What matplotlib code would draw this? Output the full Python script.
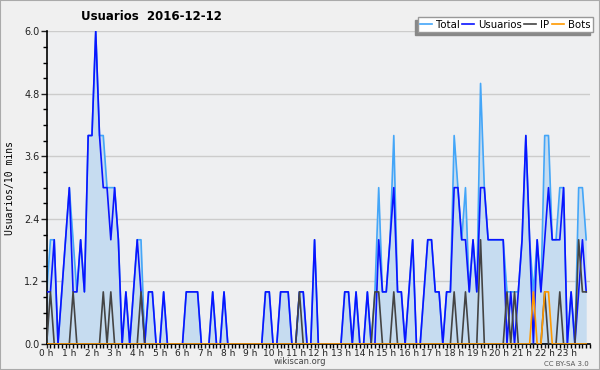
import numpy as np
import matplotlib.pyplot as plt
from matplotlib.patches import Rectangle
from matplotlib.ticker import MultipleLocator
from matplotlib.transforms import IdentityTransform

# one value per 10 minutes, 2016-12-12
usuarios = [1, 1, 2, 0, 1, 2, 3, 1, 1, 2, 1, 4, 4, 6, 4, 3, 3, 2, 3, 2,
            0, 1, 0, 1, 2, 1, 0, 1, 1, 0, 0, 1, 0, 0, 0, 0, 0, 1, 1, 1,
            1, 0, 0, 0, 1, 0, 0, 1, 0, 0, 0, 0, 0, 0, 0, 0, 0, 0, 1, 1,
            0, 0, 1, 1, 1, 0, 0, 1, 1, 0, 0, 2, 0, 0, 0, 0, 0, 0, 0, 1,
            1, 0, 1, 0, 0, 1, 0, 0, 2, 1, 1, 2, 3, 1, 1, 0, 1, 2, 0, 0,
            1, 2, 2, 1, 1, 0, 1, 1, 3, 3, 2, 2, 1, 2, 1, 3, 3, 2, 2, 2,
            2, 2, 0, 1, 0, 1, 2, 4, 2, 0, 2, 1, 2, 3, 2, 2, 2, 3, 0, 1,
            0, 1, 2, 1]
ip = [0, 1, 0, 0, 0, 0, 0, 1, 0, 0, 0, 0, 0, 0, 0, 1, 0, 1, 0, 0,
      0, 0, 0, 0, 0, 1, 0, 0, 0, 0, 0, 0, 0, 0, 0, 0, 0, 0, 0, 0,
      0, 0, 0, 0, 0, 0, 0, 0, 0, 0, 0, 0, 0, 0, 0, 0, 0, 0, 0, 0,
      0, 0, 0, 0, 0, 0, 0, 1, 0, 0, 0, 0, 0, 0, 0, 0, 0, 0, 0, 0,
      0, 0, 0, 0, 0, 0, 0, 1, 1, 0, 0, 0, 1, 0, 0, 0, 0, 0, 0, 0,
      0, 0, 0, 0, 0, 0, 0, 0, 1, 0, 0, 1, 0, 0, 0, 2, 0, 0, 0, 0,
      0, 0, 1, 0, 1, 0, 0, 0, 0, 0, 0, 0, 1, 0, 0, 0, 1, 0, 0, 0,
      0, 2, 1, 1]
bots = [0] * 129 + [1, 0, 0, 1, 1] + [0] * 10
total = [1, 2, 2, 0, 1, 2, 3, 2, 1, 2, 1, 4, 4, 6, 4, 4, 3, 3, 3, 2,
         0, 1, 0, 1, 2, 2, 0, 1, 1, 0, 0, 1, 0, 0, 0, 0, 0, 1, 1, 1,
         1, 0, 0, 0, 1, 0, 0, 1, 0, 0, 0, 0, 0, 0, 0, 0, 0, 0, 1, 1,
         0, 0, 1, 1, 1, 0, 0, 1, 1, 0, 0, 2, 0, 0, 0, 0, 0, 0, 0, 1,
         1, 0, 1, 0, 0, 1, 0, 1, 3, 1, 1, 2, 4, 1, 1, 0, 1, 2, 0, 0,
         1, 2, 2, 1, 1, 0, 1, 1, 4, 3, 2, 3, 1, 2, 1, 5, 3, 2, 2, 2,
         2, 2, 1, 1, 1, 1, 2, 4, 2, 1, 2, 1, 4, 4, 2, 2, 3, 3, 0, 1,
         0, 3, 3, 2]

hours = np.arange(len(total)) / 6.0
hour_labels = [f"{h} h" for h in range(24)]

fig = plt.figure(figsize=(6, 3.7), dpi=100, facecolor='#f0f0f0')
fig.patches.append(Rectangle((0, 0), 1, 1, transform=fig.transFigure, fill=False,
                             edgecolor='#aaaaaa', linewidth=1.5))
ax = fig.add_axes([0.0778, 0.0703, 0.9055, 0.8451])
ax.set_facecolor('#eeeff1')

ax.fill_between(hours, total, 0, color='#c6dcf0', linewidth=0, zorder=1)
ax.plot(hours, total, color='#44a6f8', lw=1.2, label='Total', zorder=2)
ax.plot(hours, usuarios, color='#0a14ff', lw=1.2, label='Usuarios', zorder=3)
ax.plot(hours, ip, color='#444444', lw=1.2, label='IP', zorder=4)
ax.plot(hours, bots, color='#ff9900', lw=1.2, label='Bots', zorder=4)

ax.set_xlim(0, 24)
ax.set_ylim(0, 6)
ax.set_yticks(np.arange(0, 6.01, 1.2))
ax.set_yticklabels([f"{v:.1f}" for v in np.arange(0, 6.01, 1.2)])
ax.yaxis.set_minor_locator(MultipleLocator(0.3))
ax.set_xticks(range(24))
ax.set_xticklabels(hour_labels)
ax.xaxis.set_minor_locator(MultipleLocator(1 / 6))
ax.grid(axis='y', color='#cccccc', lw=1)
ax.set_axisbelow(True)
for s in ('top', 'right'):
    ax.spines[s].set_visible(False)
ax.spines['left'].set_linewidth(1.2)
ax.spines['bottom'].set_linewidth(1.2)
ax.tick_params(axis='y', labelsize=7, colors='#222222', width=1, length=4, pad=1)
ax.tick_params(axis='x', labelsize=6.5, colors='#222222', width=1, length=3, pad=0.5)
ax.tick_params(axis='both', which='minor', width=1, length=3)

ax.set_ylabel('Usuarios/10 mins', family='DejaVu Sans Mono', fontsize=7, labelpad=7)
fig.text(151 / 600, 1 - 17 / 370, 'Usuarios  2016-12-12', ha='center', va='center',
         fontsize=8.5, fontweight='bold')
fig.text(300 / 600, 1 - 362 / 370, 'wikiscan.org', ha='center', va='center',
         fontsize=6, color='#444444')
fig.text(589 / 600, 1 - 364 / 370, 'CC BY-SA 3.0', ha='right', va='center',
         fontsize=5, color='#555555')

leg = ax.legend(loc='upper right', bbox_to_anchor=(593 / 600, 1 - 17 / 370),
                bbox_transform=fig.transFigure, ncol=4, fontsize=7.3,
                handlelength=1.2, handletextpad=0.4, columnspacing=0.2,
                borderpad=0.25, borderaxespad=0, fancybox=False,
                framealpha=1, edgecolor='#999999')
leg.get_frame().set_linewidth(1)

fig.canvas.draw()
bb = leg.get_window_extent()
ax.add_patch(Rectangle((bb.x0 - 3, bb.y0 - 3), bb.width, bb.height,
                       transform=IdentityTransform(), color='#888888',
                       zorder=4.9, clip_on=False))

fig.savefig('out.png', dpi=100, facecolor=fig.get_facecolor())
